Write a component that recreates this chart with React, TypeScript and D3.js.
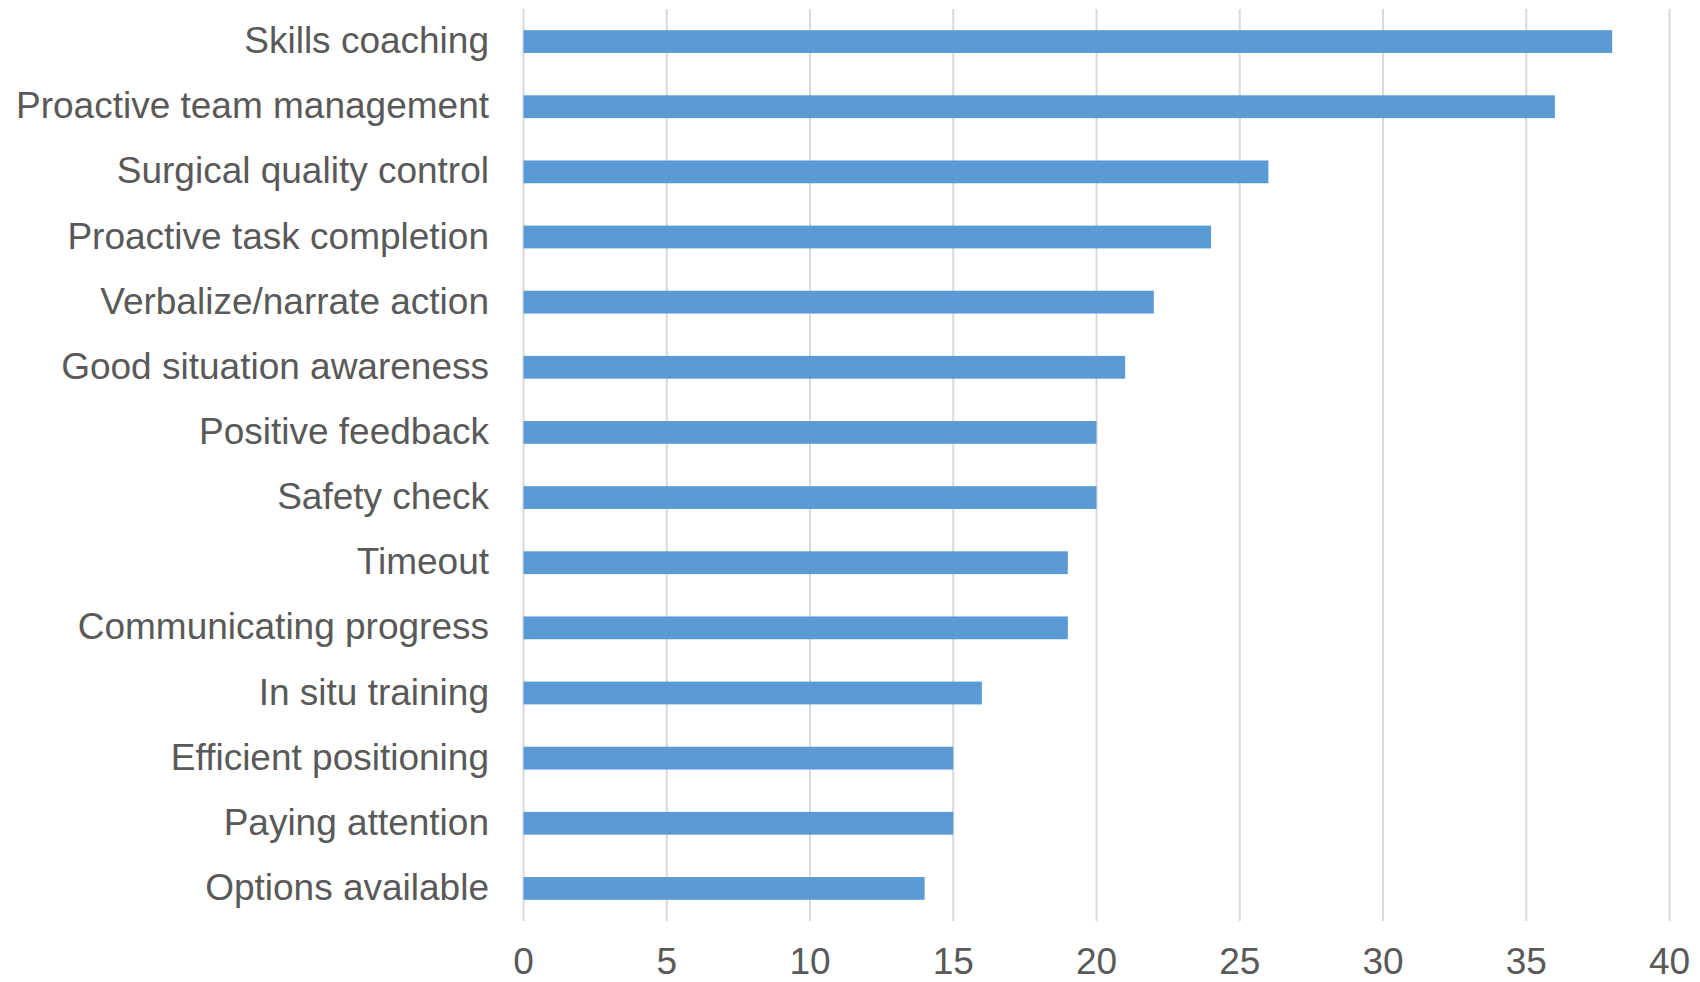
import React from "react";
import * as d3 from "d3";

const categories = [
  "Skills coaching",
  "Proactive team management",
  "Surgical quality control",
  "Proactive task completion",
  "Verbalize/narrate action",
  "Good situation awareness",
  "Positive feedback",
  "Safety check",
  "Timeout",
  "Communicating progress",
  "In situ training",
  "Efficient positioning",
  "Paying attention",
  "Options available",
];
const values = [38, 36, 26, 24, 22, 21, 20, 20, 19, 19, 16, 15, 15, 14];
const xTicks = [0, 5, 10, 15, 20, 25, 30, 35, 40];

export default function App() {
  const W = 1700;
  const H = 982;
  const left = 523.5;
  const right = 1669.5;
  const top = 9;
  const bottom = 921;
  const x = d3.scaleLinear().domain([0, 40]).range([left, right]);
  const y = d3.scaleBand<string>().domain(categories).range([top, bottom]).paddingInner(0.65).paddingOuter(0.325);
  const font = "'Liberation Sans', Arial, sans-serif";
  const textColor = "#595959";
  return (
    <svg width={W} height={H} style={{ position: "absolute", left: 0, top: 0, background: "#fff" }}>
      {xTicks.map((t) => (
        <line key={"g" + t} x1={x(t)} x2={x(t)} y1={top} y2={bottom} stroke="#D9D9D9" strokeWidth={2} />
      ))}
      {categories.map((c, i) => (
        <rect key={c} x={x(0)} y={y(c)!} width={x(values[i]) - x(0)} height={y.bandwidth()} fill="#5B9BD5" />
      ))}
      {categories.map((c) => (
        <text
          key={"l" + c}
          x={489}
          y={y(c)! + y.bandwidth() / 2 + 11.5}
          textAnchor="end"
          fontFamily={font}
          fontSize={37}
          fill={textColor}
        >
          {c}
        </text>
      ))}
      {xTicks.map((t) => (
        <text key={"t" + t} x={x(t)} y={974} textAnchor="middle" fontFamily={font} fontSize={37} fill={textColor}>
          {t}
        </text>
      ))}
    </svg>
  );
}
